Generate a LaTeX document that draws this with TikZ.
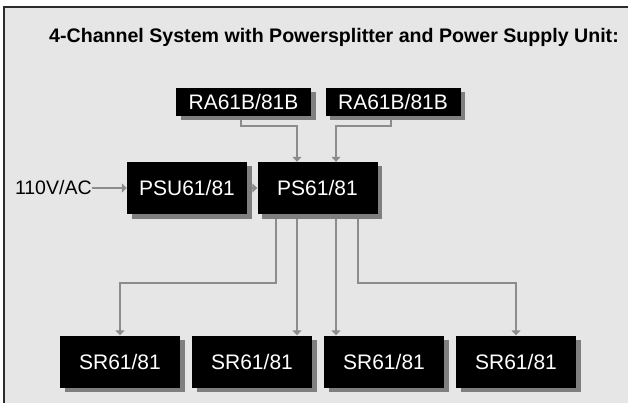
\documentclass[tikz,border=0pt]{standalone}
\usepackage{fontspec}
\setmainfont{Liberation Sans}
\usetikzlibrary{arrows.meta,positioning,shadows}
\definecolor{panelgray}{HTML}{E6E6E6}
\definecolor{wiregray}{HTML}{8C8C8C}
\definecolor{shadowgray}{HTML}{7F7F7F}
\definecolor{framegray}{HTML}{2B2B2B}
\begin{document}
\begin{tikzpicture}[x=1pt,y=1pt,>={Triangle[width=9pt,length=5pt]}]
\tikzstyle{unitbox} = [rectangle, inner sep=0pt, minimum width=120pt, minimum height=52pt, text centered, fill=black, text=white, font=\fontsize{21pt}{25pt}\selectfont, drop shadow={shadow xshift=4.5pt, shadow yshift=-4.5pt, fill=shadowgray, opacity=1}]
\tikzstyle{remotebox} = [unitbox, minimum width=135pt, minimum height=28pt]
\tikzstyle{wire} = [->, draw=wiregray, line width=1.5pt]
\useasboundingbox (0,0) rectangle (628,402);
\clip (0,0) rectangle (628,402);
\fill [white] (0,0) rectangle (628,402);
\draw [fill=panelgray, draw=framegray, line width=1.4pt] (4,395) rectangle (660,-20);
\node (title) [anchor=base west, inner sep=0pt, font=\bfseries\fontsize{19.6pt}{23pt}\selectfont] at (49,359.5) {4-Channel System with Powersplitter and Power Supply Unit:};
% remote units
\node (ra1) [remotebox] at (243.5,300) {RA61B/81B};
\node (ra2) [remotebox, right of=ra1, node distance=149.5pt] {RA61B/81B};
% supply and splitter
\node (psu) [unitbox] at (187,214) {PSU61/81};
\node (ps) [unitbox, right of=psu, node distance=130.5pt] {PS61/81};
\node (volt) [left=35pt of psu, inner sep=0pt, font=\fontsize{19.5pt}{23pt}\selectfont] {110V/AC};
% receivers
\node (sr1) [unitbox] at (120,40.5) {SR61/81};
\node (sr2) [unitbox, right of=sr1, node distance=132pt] {SR61/81};
\node (sr3) [unitbox, right of=sr2, node distance=132pt] {SR61/81};
\node (sr4) [unitbox, right of=sr3, node distance=132pt] {SR61/81};
\draw [wire] (volt.east) -- (psu.west);
\draw [wire] ([xshift=4.5pt]psu.east) -- (ps.west);
\draw [wire] ([xshift=-2.5pt,yshift=-4pt]ra1.south) -- ++(0,-6pt) -| ([xshift=-20.5pt]ps.north);
\draw [wire] ([xshift=-2pt,yshift=-4pt]ra2.south) -- ++(0,-6pt) -| ([xshift=18.5pt]ps.north);
\draw [wire] ([xshift=-41.5pt,yshift=-5pt]ps.south) -- ++(0,-64pt) -| (sr1.north);
\draw [wire] ([xshift=-20.5pt,yshift=-5pt]ps.south) -- ([xshift=-20.5pt]ps.south |- sr2.north);
\draw [wire] ([xshift=18.5pt,yshift=-5pt]ps.south) -- ([xshift=18.5pt]ps.south |- sr3.north);
\draw [wire] ([xshift=40.5pt,yshift=-5pt]ps.south) -- ++(0,-64pt) -| (sr4.north);
\end{tikzpicture}
\end{document}
